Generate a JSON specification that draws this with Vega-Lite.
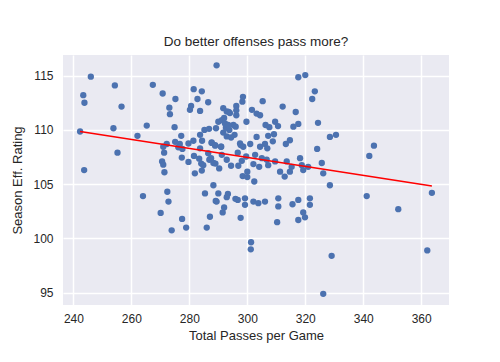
{
  "$schema": "https://vega.github.io/schema/vega-lite/v6.json",
  "autosize": {"type": "none"},
  "width": 386,
  "height": 250,
  "padding": {"left": 63, "top": 55, "right": 51, "bottom": 57},
  "background": "white",
  "title": {"text": "Do better offenses pass more?"},
  "datasets": {
    "teams": [
      {"passes": 242.3, "rating": 109.85}, {"passes": 243.4, "rating": 113.2}, {"passes": 243.8, "rating": 112.5}, {"passes": 246.0, "rating": 114.9},
      {"passes": 243.7, "rating": 106.3}, {"passes": 254.3, "rating": 114.1}, {"passes": 253.8, "rating": 110.15}, {"passes": 255.2, "rating": 107.9},
      {"passes": 256.6, "rating": 112.15}, {"passes": 262.1, "rating": 109.45}, {"passes": 265.3, "rating": 110.4}, {"passes": 264.0, "rating": 103.9},
      {"passes": 267.4, "rating": 114.15}, {"passes": 270.8, "rating": 113.35}, {"passes": 273.1, "rating": 112.05}, {"passes": 273.3, "rating": 111.45},
      {"passes": 275.2, "rating": 112.85}, {"passes": 274.9, "rating": 110.25}, {"passes": 271.0, "rating": 108.45}, {"passes": 271.3, "rating": 107.9},
      {"passes": 270.6, "rating": 107.1}, {"passes": 271.0, "rating": 106.8}, {"passes": 271.4, "rating": 106.1}, {"passes": 272.4, "rating": 104.3},
      {"passes": 272.8, "rating": 103.4}, {"passes": 270.1, "rating": 102.35}, {"passes": 273.9, "rating": 100.75}, {"passes": 277.5, "rating": 101.8},
      {"passes": 278.9, "rating": 101.0}, {"passes": 277.2, "rating": 109.45}, {"passes": 276.7, "rating": 108.7}, {"passes": 277.6, "rating": 108.25},
      {"passes": 277.4, "rating": 107.45}, {"passes": 279.7, "rating": 107.05}, {"passes": 281.5, "rating": 113.75}, {"passes": 282.8, "rating": 112.85},
      {"passes": 284.3, "rating": 113.55}, {"passes": 280.6, "rating": 112.2}, {"passes": 280.2, "rating": 111.85}, {"passes": 283.7, "rating": 111.75},
      {"passes": 286.5, "rating": 112.55}, {"passes": 281.4, "rating": 109.0}, {"passes": 283.7, "rating": 109.55}, {"passes": 285.2, "rating": 110.0},
      {"passes": 286.8, "rating": 110.1}, {"passes": 284.4, "rating": 109.0}, {"passes": 283.7, "rating": 108.3}, {"passes": 281.6, "rating": 107.6},
      {"passes": 283.4, "rating": 107.35}, {"passes": 284.1, "rating": 106.9}, {"passes": 281.9, "rating": 106.0}, {"passes": 286.5, "rating": 107.85},
      {"passes": 286.9, "rating": 107.25}, {"passes": 287.7, "rating": 108.85}, {"passes": 289.0, "rating": 106.9}, {"passes": 288.9, "rating": 108.55},
      {"passes": 291.0, "rating": 108.45}, {"passes": 289.4, "rating": 115.95}, {"passes": 289.2, "rating": 110.15}, {"passes": 290.0, "rating": 110.75},
      {"passes": 291.7, "rating": 112.0}, {"passes": 293.6, "rating": 111.65}, {"passes": 292.0, "rating": 111.1}, {"passes": 291.7, "rating": 109.75},
      {"passes": 292.6, "rating": 110.2}, {"passes": 293.8, "rating": 110.0}, {"passes": 295.6, "rating": 109.55}, {"passes": 295.2, "rating": 110.45},
      {"passes": 296.0, "rating": 110.3}, {"passes": 296.2, "rating": 112.2}, {"passes": 296.2, "rating": 111.8}, {"passes": 296.2, "rating": 111.35},
      {"passes": 292.9, "rating": 111.7}, {"passes": 294.0, "rating": 111.55}, {"passes": 298.5, "rating": 113.05}, {"passes": 298.3, "rating": 112.6},
      {"passes": 299.7, "rating": 110.75}, {"passes": 297.7, "rating": 108.6}, {"passes": 296.7, "rating": 107.9}, {"passes": 289.1, "rating": 103.45},
      {"passes": 291.5, "rating": 102.4}, {"passes": 292.0, "rating": 102.85}, {"passes": 293.3, "rating": 104.1}, {"passes": 295.9, "rating": 103.65},
      {"passes": 296.7, "rating": 103.55}, {"passes": 297.7, "rating": 101.9}, {"passes": 287.1, "rating": 102.0}, {"passes": 286.0, "rating": 101.0},
      {"passes": 288.3, "rating": 104.9}, {"passes": 291.2, "rating": 110.9}, {"passes": 292.3, "rating": 110.6}, {"passes": 293.4, "rating": 110.45},
      {"passes": 292.9, "rating": 109.4}, {"passes": 294.4, "rating": 109.3}, {"passes": 272.2, "rating": 108.7}, {"passes": 275.1, "rating": 108.9},
      {"passes": 276.2, "rating": 108.4}, {"passes": 279.7, "rating": 108.75}, {"passes": 287.7, "rating": 108.8}, {"passes": 288.9, "rating": 108.6},
      {"passes": 290.9, "rating": 108.45}, {"passes": 297.5, "rating": 108.75}, {"passes": 298.6, "rating": 108.45}, {"passes": 301.0, "rating": 108.7},
      {"passes": 284.8, "rating": 106.75}, {"passes": 284.3, "rating": 106.25}, {"passes": 287.5, "rating": 107.4}, {"passes": 288.3, "rating": 106.95},
      {"passes": 290.3, "rating": 106.45}, {"passes": 291.2, "rating": 107.7}, {"passes": 292.9, "rating": 107.25}, {"passes": 294.4, "rating": 106.7},
      {"passes": 296.9, "rating": 106.7}, {"passes": 298.1, "rating": 107.15}, {"passes": 299.6, "rating": 107.55}, {"passes": 300.0, "rating": 106.15},
      {"passes": 298.4, "rating": 105.75}, {"passes": 300.0, "rating": 105.65}, {"passes": 302.4, "rating": 105.25}, {"passes": 285.4, "rating": 104.15},
      {"passes": 290.0, "rating": 104.15}, {"passes": 292.9, "rating": 103.8}, {"passes": 289.4, "rating": 103.4}, {"passes": 299.2, "rating": 103.7},
      {"passes": 299.2, "rating": 103.1}, {"passes": 302.1, "rating": 103.4}, {"passes": 303.8, "rating": 103.25}, {"passes": 301.3, "rating": 99.65},
      {"passes": 301.2, "rating": 99.0}, {"passes": 317.6, "rating": 114.85}, {"passes": 320.0, "rating": 115.05}, {"passes": 323.3, "rating": 113.55},
      {"passes": 322.4, "rating": 112.85}, {"passes": 305.3, "rating": 112.65}, {"passes": 312.2, "rating": 112.15}, {"passes": 316.7, "rating": 111.65},
      {"passes": 301.6, "rating": 111.85}, {"passes": 303.2, "rating": 111.5}, {"passes": 304.4, "rating": 111.35}, {"passes": 306.3, "rating": 110.45},
      {"passes": 307.6, "rating": 110.25}, {"passes": 309.6, "rating": 110.75}, {"passes": 310.6, "rating": 110.35}, {"passes": 315.9, "rating": 110.3},
      {"passes": 317.6, "rating": 110.55}, {"passes": 324.4, "rating": 110.65}, {"passes": 303.2, "rating": 109.35}, {"passes": 307.2, "rating": 109.45},
      {"passes": 309.2, "rating": 109.6}, {"passes": 308.8, "rating": 108.95}, {"passes": 304.4, "rating": 108.45}, {"passes": 306.1, "rating": 108.7},
      {"passes": 306.9, "rating": 108.3}, {"passes": 313.3, "rating": 108.7}, {"passes": 314.7, "rating": 109.05}, {"passes": 328.5, "rating": 109.35},
      {"passes": 330.6, "rating": 109.55}, {"passes": 324.1, "rating": 108.25}, {"passes": 343.7, "rating": 108.55}, {"passes": 302.7, "rating": 107.7},
      {"passes": 305.0, "rating": 107.4}, {"passes": 306.7, "rating": 107.25}, {"passes": 302.1, "rating": 106.85}, {"passes": 304.1, "rating": 106.6},
      {"passes": 307.2, "rating": 106.75}, {"passes": 309.6, "rating": 107.1}, {"passes": 313.6, "rating": 107.1}, {"passes": 315.3, "rating": 106.6},
      {"passes": 318.2, "rating": 107.4}, {"passes": 318.8, "rating": 106.75}, {"passes": 321.0, "rating": 106.6}, {"passes": 325.7, "rating": 106.95},
      {"passes": 326.2, "rating": 106.0}, {"passes": 311.3, "rating": 106.15}, {"passes": 312.9, "rating": 105.7}, {"passes": 314.7, "rating": 106.15},
      {"passes": 319.3, "rating": 106.3}, {"passes": 306.1, "rating": 103.4}, {"passes": 310.7, "rating": 103.7}, {"passes": 317.6, "rating": 103.55},
      {"passes": 321.6, "rating": 103.7}, {"passes": 328.5, "rating": 104.9}, {"passes": 310.7, "rating": 102.95}, {"passes": 315.6, "rating": 103.15},
      {"passes": 321.6, "rating": 103.1}, {"passes": 352.1, "rating": 102.7}, {"passes": 341.2, "rating": 103.9}, {"passes": 342.1, "rating": 107.6},
      {"passes": 363.7, "rating": 104.2}, {"passes": 310.3, "rating": 101.5}, {"passes": 317.6, "rating": 101.7}, {"passes": 319.9, "rating": 101.95},
      {"passes": 319.3, "rating": 102.4}, {"passes": 329.1, "rating": 98.4}, {"passes": 326.2, "rating": 94.9}, {"passes": 362.1, "rating": 98.9}
    ],
    "fit": [
      {"passes": 242.3, "rating": 109.85},
      {"passes": 363.7, "rating": 104.83}
    ]
  },
  "layer": [
    {
      "data": {"name": "teams"},
      "mark": {"type": "circle", "size": 40, "color": "#4C72B0", "opacity": 1},
      "encoding": {
        "x": {
          "field": "passes", "type": "quantitative",
          "scale": {"domain": [236.4, 369.6], "nice": false, "zero": false},
          "axis": {"title": "Total Passes per Game", "values": [240, 260, 280, 300, 320, 340, 360], "labelPadding": 8, "titlePadding": 5}
        },
        "y": {
          "field": "rating", "type": "quantitative",
          "scale": {"domain": [93.87, 116.9], "nice": false, "zero": false},
          "axis": {"title": "Season Eff. Rating", "values": [95, 100, 105, 110, 115], "labelPadding": 10, "titlePadding": 8}
        }
      }
    },
    {
      "data": {"name": "fit"},
      "mark": {"type": "line", "color": "#FF0000", "strokeWidth": 1.5},
      "encoding": {
        "x": {"field": "passes", "type": "quantitative"},
        "y": {"field": "rating", "type": "quantitative"}
      }
    }
  ],
  "config": {
    "font": "Liberation Sans",
    "view": {"fill": "#EAEAF2", "stroke": null},
    "axis": {
      "domain": false, "ticks": false, "grid": true,
      "gridColor": "#FFFFFF", "gridWidth": 1.5,
      "labelFontSize": 12, "labelColor": "#262626",
      "titleFontSize": 13, "titleFontWeight": "normal", "titleColor": "#262626"
    },
    "title": {"fontSize": 13.5, "fontWeight": "normal", "color": "#262626", "offset": 7}
  }
}
